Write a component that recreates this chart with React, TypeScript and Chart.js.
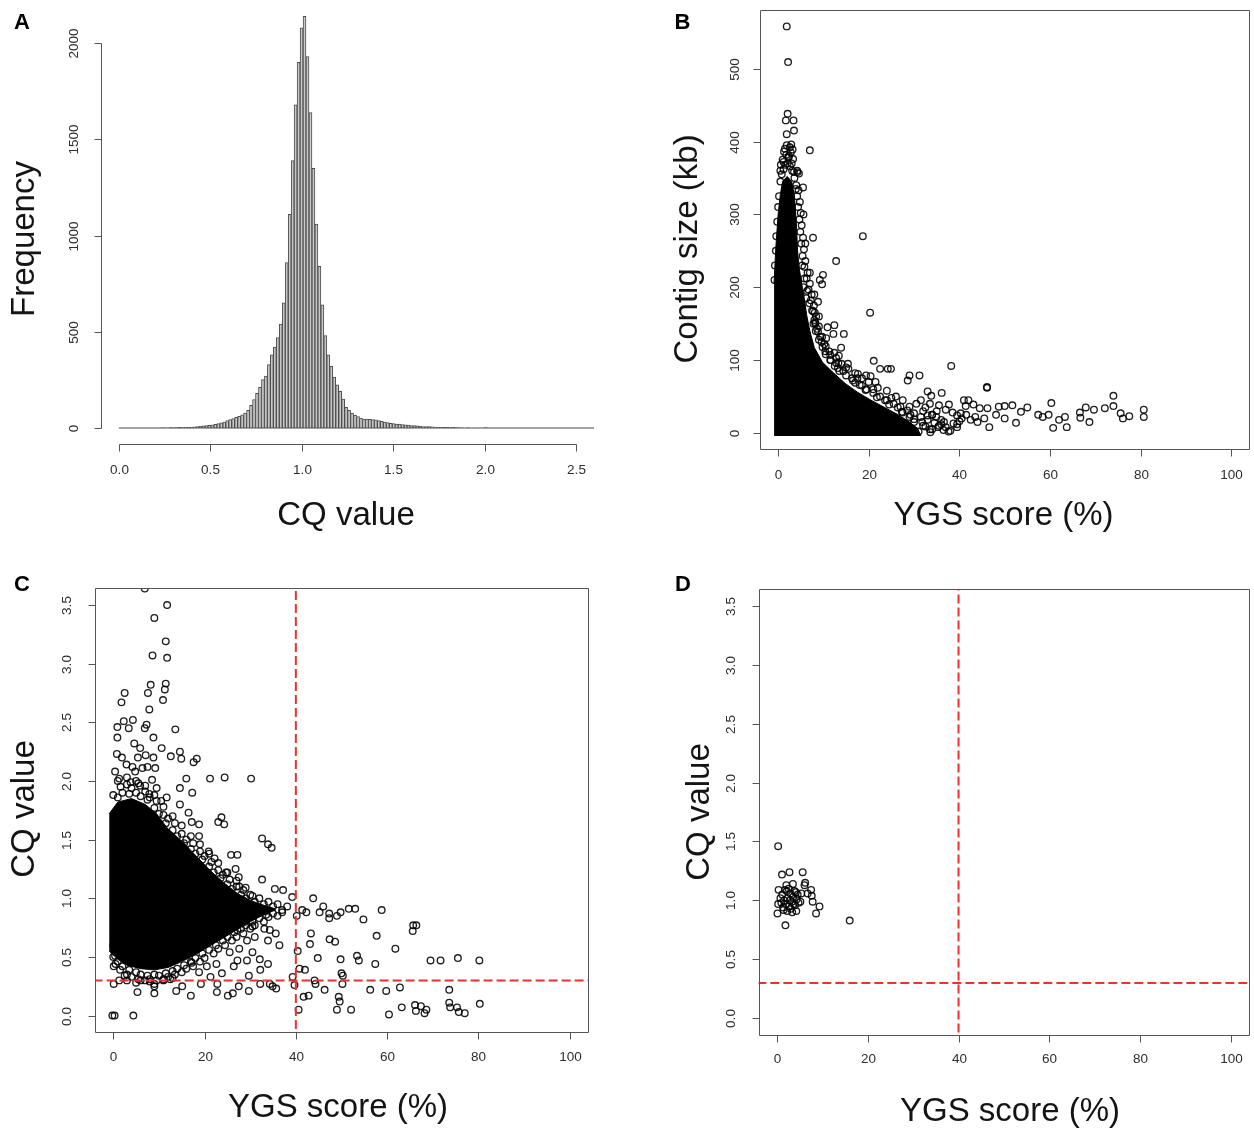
import React, { useEffect, useRef } from 'react';
import { Chart, registerables } from 'chart.js';

Chart.register(...registerables);

const FONT = '"Liberation Sans", Arial, Helvetica, sans-serif';
const AXIS_COLOR = '#555555';
const TICK_TEXT = '#2e2e2e';
const TITLE_TEXT = '#141414';
const POINT_COLOR = 'rgba(0,0,0,0.88)';
const RED = '#ee3030';
const TICK_LEN = 7;

type Pair = [number, number];

// ---------------- Panel A : histogram of CQ values ----------------
const cqBinWidth = 0.01625;
const cqBinCounts = [
  0, 0, 0, 0, 0, 0, 0, 0, 0, 0, 0, 0, 0, 0, 1, 1, 0, 2, 1, 2,
  3, 2, 4, 3, 5, 6, 8, 9, 11, 12, 14, 17, 19, 23, 27, 31, 38, 44, 49, 55,
  61, 68, 78, 92, 118, 148, 180, 212, 252, 270, 330, 380, 420, 470, 540, 650, 860, 1110, 1390, 1680,
  1900, 2080, 2140, 1930, 1640, 1350, 1060, 840, 640, 480, 380, 320, 265, 225, 190, 150, 108, 92, 78, 66,
  60, 52, 47, 46, 45, 44, 42, 38, 35, 31, 28, 24, 23, 21, 20, 18, 16, 15, 13, 12,
  11, 9, 8, 7, 7, 6, 5, 4, 4, 3, 3, 2, 3, 2, 1, 1, 0, 1, 0, 0,
  0, 0, 0, 2, 0, 0, 0, 0, 0, 0, 0, 0, 0, 0, 0, 0, 0, 0, 0, 0,
  0, 0, 0, 0, 0, 0, 0, 0, 0, 0, 0, 0, 0, 0, 0, 0, 0, 0, 0, 0,
];
const cqHistTicks = [0, 0.5, 1, 1.5, 2, 2.5];
const cqHistTickLabels = ['0.0', '0.5', '1.0', '1.5', '2.0', '2.5'];
const freqTicks = [0, 500, 1000, 1500, 2000];
const freqTickLabels = ['0', '500', '1000', '1500', '2000'];

// ---------------- shared YGS axis ----------------
const ygsTicks = [0, 20, 40, 60, 80, 100];
const ygsTickLabels = ['0', '20', '40', '60', '80', '100'];

// ---------------- Panel B : contig size vs YGS ----------------
const sizeTicks = [0, 100, 200, 300, 400, 500];
const sizeTickLabels = ['0', '100', '200', '300', '400', '500'];
const bCoreFloor = -4;
// outline of the fully over-plotted (solid black) region
const bCoreUpper: Pair[] = [
  [-0.9, 205], [-0.5, 255], [0.0, 300], [0.5, 328], [1.0, 345], [2.0, 352], [3.0, 345], [3.6, 325],
  [4.0, 290], [4.3, 250], [4.6, 228], [5.2, 205], [5.8, 184], [6.3, 162], [7.0, 140], [8.0, 117],
  [9.8, 97], [12.3, 82], [14.8, 68], [17.5, 56], [20.5, 45], [23.5, 35], [26.5, 25], [29, 15],
  [30.8, 6], [31.5, -4],
];
// circles on the fringe of the dense region
const bEdgePoints: Pair[] = [
  [4.0, 340], [4.5, 333], [4.2, 325], [4.8, 317], [4.4, 310], [5.0, 302], [4.7, 293], [5.2, 285],
  [4.9, 276], [5.5, 268], [5.1, 260], [5.7, 252], [5.4, 243], [6.0, 236], [5.8, 228], [6.5, 220],
  [6.3, 212], [7.0, 205], [6.7, 197], [7.4, 190], [7.2, 182], [7.9, 175], [7.7, 167], [8.4, 160],
  [8.2, 152], [9.0, 146], [8.8, 139], [9.7, 132], [9.6, 125], [10.5, 119], [10.4, 112], [11.5, 107],
  [11.6, 100], [12.8, 96], [13.2, 89], [14.4, 85], [15, 79], [16.3, 75], [17, 69], [18.5, 65],
  [19.3, 59], [21, 55], [21.8, 49], [23.6, 45], [24.5, 39], [26.4, 35], [27.3, 29], [29.2, 25],
  [30, 19], [31.8, 15], [32.5, 9], [34, 5], [33.6, 1], [5.6, 300], [6.0, 260], [7.0, 220],
  [8.0, 190], [9.0, 160], [10.6, 130], [12.4, 110], [15, 90], [17.5, 75], [21, 60], [25, 48],
  [29, 36], [33, 24], [36, 12], [-0.8, 210], [-0.7, 230], [-0.5, 250], [-0.4, 270], [-0.2, 290],
  [0.0, 310], [0.2, 325], [0.5, 345], [0.8, 355], [1.2, 362], [1.6, 368], [2.1, 370], [2.6, 366],
  [3.1, 360], [3.6, 350], [1.0, 375], [2.4, 380], [3.3, 376], [0.6, 368], [1.9, 395], [2.6, 392],
  [0.5, 360], [1.2, 372], [1.8, 382], [2.3, 378], [2.8, 385], [1.5, 390], [3.0, 370], [3.5, 358],
  [4.3, 358], [4.6, 356], [3.9, 335], [5.3, 230], [5.8, 212], [6.4, 195], [6.9, 178], [7.8, 150],
  [8.3, 140], [9.0, 128], [9.8, 118], [10.5, 108], [11.5, 100], [12.5, 92], [13.5, 85], [16.5, 72],
  [18, 66], [19.5, 60], [22.5, 50], [24, 45], [25.5, 40], [27, 36], [28.5, 31], [30, 27],
  [31.5, 22], [33, 18], [34.5, 14], [35.5, 10], [33.5, 5], [31, 2], [32, 10], [30, 15],
  [29, 22], [27.5, 28], [34, 25], [36, 18], [37, 8], [38, 3], [39.5, 12], [35, 30],
  [32.5, 35], [30.5, 40], [27.5, 45], [26, 50], [24, 58], [22, 62], [20, 70], [18.5, 75],
  [17, 82], [15.5, 88], [14, 95], [12.8, 103], [11.3, 112], [10.2, 122], [9.3, 132], [8.6, 143],
  [8, 155], [7.5, 168], [6.2, 185], [5.6, 200], [40.5, 20], [41.5, 25], [43.5, 22], [44, 15],
  [42.5, 18], [45.5, 20], [40, 16], [39.5, 24], [31.5, 45], [33.5, 40], [35.5, 38], [37, 32],
  [38.5, 28], [32, 30], [34, 25], [36.5, 4],
];
const bOutliers: Pair[] = [
  [1.9, 558], [2.2, 509], [2.1, 438], [1.7, 429], [3.4, 429], [3.5, 415], [1.9, 410], [2.9, 396],
  [7.0, 388], [1.3, 386], [3.2, 389], [4.2, 360], [5.5, 337], [7.7, 268], [18.7, 270], [12.8, 236],
  [9.9, 217], [9.2, 210], [9.7, 204], [8.8, 180], [20.3, 165], [8.1, 165], [8.2, 150], [10.9, 145],
  [12.2, 136], [12.4, 148], [14.5, 136], [13.9, 117], [13.4, 106], [13.3, 96], [15.4, 95], [21.1, 99],
  [22.5, 88], [24.2, 88], [24.9, 88], [38.2, 92], [17.6, 81], [19.4, 79], [20.4, 78], [29.0, 79],
  [31.2, 79], [28.6, 72], [21.5, 70], [36.1, 55], [33.0, 57], [33.8, 51], [46.1, 63], [46.1, 62],
  [41.0, 45], [42.0, 45], [43.1, 39], [41.4, 37], [40.3, 27], [44.5, 34], [46.2, 34], [48.7, 36],
  [50.0, 37], [51.7, 38], [55.0, 35], [53.6, 29], [52.5, 14], [48.1, 25], [50.0, 20], [46.6, 8],
  [57.4, 25], [58.4, 22], [59.7, 25], [60.3, 41], [60.7, 7], [62.0, 18], [63.3, 22], [63.7, 8],
  [66.6, 28], [66.7, 21], [67.9, 35], [68.7, 15], [69.7, 32], [72.1, 34], [74.0, 51], [74.0, 37],
  [75.6, 27], [76.1, 20], [77.5, 23], [80.7, 32], [80.7, 22], [37.6, 2], [39.5, 8], [34.9, 22],
  [36.6, 15], [35.3, 8], [38.7, 13], [37.7, 39],
];

// ---------------- Panels C & D : CQ vs YGS ----------------
const cqTicks = [0, 0.5, 1, 1.5, 2, 2.5, 3, 3.5];
const cqTickLabels = ['0.0', '0.5', '1.0', '1.5', '2.0', '2.5', '3.0', '3.5'];
const ygsThreshold = 40;
const cqThreshold = 0.3;

const cCoreUpper: Pair[] = [
  [-0.9, 1.72], [1, 1.82], [4, 1.85], [7, 1.8], [9.5, 1.72], [11.8, 1.6], [15.5, 1.47], [18.4, 1.35],
  [21.4, 1.23], [24.3, 1.13], [27.2, 1.04], [30.1, 0.98], [33, 0.94], [35.5, 0.91],
];
const cCoreLower: Pair[] = [
  [-0.9, 0.55], [1, 0.48], [3, 0.43], [6, 0.4], [9, 0.39], [12, 0.41], [15, 0.46], [18, 0.52],
  [21, 0.59], [24, 0.66], [27, 0.73], [30, 0.8], [33, 0.86], [35.5, 0.9],
];
const cEdgePoints: Pair[] = [
  [0, 1.88], [1, 1.86], [1.6, 1.95], [2, 1.9], [3, 1.97], [3.5, 1.89], [4, 1.94], [5, 1.9],
  [5.5, 1.98], [6, 1.87], [7, 1.91], [7.5, 1.84], [8, 1.86], [9, 1.77], [9.5, 1.83], [10, 1.72],
  [11, 1.71], [11.5, 1.64], [12, 1.68], [13, 1.58], [13.5, 1.64], [14, 1.53], [15, 1.55], [15.5, 1.47],
  [16, 1.5], [17, 1.42], [17.5, 1.47], [18, 1.38], [19, 1.4], [19.5, 1.33], [20, 1.36], [21, 1.27],
  [21.5, 1.31], [22, 1.22], [23, 1.24], [23.5, 1.17], [24, 1.2], [25, 1.12], [25.5, 1.16], [26, 1.08],
  [27, 1.1], [28, 1.03], [28.5, 1.07], [29, 1.0], [30, 1.03], [31, 0.97], [32, 1.0], [33, 0.95],
  [34, 0.97], [35, 0.93], [36, 0.95], [37, 0.9], [0, 0.5], [0.5, 0.44], [1, 0.46], [1.5, 0.39],
  [2, 0.42], [3, 0.35], [3.5, 0.39], [4, 0.33], [5, 0.37], [5.5, 0.31], [6, 0.35], [7, 0.3],
  [7.5, 0.34], [8, 0.31], [9, 0.35], [9.5, 0.3], [10, 0.34], [11, 0.31], [11.5, 0.36], [12, 0.33],
  [13, 0.38], [13.5, 0.35], [14, 0.4], [15, 0.37], [15.5, 0.43], [16, 0.4], [17, 0.46], [17.5, 0.42],
  [18, 0.49], [19, 0.46], [19.5, 0.53], [20, 0.49], [21, 0.56], [22, 0.53], [22.5, 0.6], [23, 0.57],
  [24, 0.64], [24.5, 0.6], [25, 0.67], [26, 0.64], [26.5, 0.71], [27, 0.67], [28, 0.74], [28.5, 0.7],
  [29, 0.77], [30, 0.74], [30.5, 0.8], [31, 0.77], [32, 0.83], [33, 0.8], [33.5, 0.86], [34, 0.84],
  [35, 0.87], [36, 0.85], [37, 0.88], [1, 2.0], [3, 2.03], [5, 2.0], [7, 1.96], [9, 1.88],
  [11, 1.78], [13, 1.7], [15, 1.62], [17, 1.53], [19, 1.46], [21, 1.38], [23, 1.3], [25, 1.22],
  [27, 1.15], [29, 1.09], [17.2, 0.45], [20.5, 0.42], [22.6, 0.44], [25.5, 0.54], [27.2, 0.47], [29.3, 0.47],
  [30.5, 0.54], [32.1, 0.48], [33.9, 0.44], [32.2, 0.39], [29.7, 0.34], [26.4, 0.42], [23.8, 0.36], [21.3, 0.33],
  [18.8, 0.37], [33.9, 0.64], [35.6, 0.7], [36.4, 0.6], [33.1, 0.74], [34.3, 0.73], [31.0, 0.67], [29.3, 0.64],
  [27.6, 0.57], [30.5, 0.76], [28.9, 0.8], [27.2, 0.73], [0.8, 2.23], [1.9, 2.2], [2.9, 2.14], [4.2, 2.12],
  [4.8, 2.08], [5.4, 2.2], [6.4, 2.11], [7.1, 2.22], [7.5, 2.12], [8.8, 2.2], [9.2, 2.11], [0.4, 2.08],
  [1.3, 2.02], [3.8, 1.99], [5.9, 1.96], [7.9, 1.89], [10.5, 1.83], [11.7, 1.86], [14.6, 1.8], [17.2, 1.65],
  [18.8, 1.53], [20.9, 1.4], [22.2, 1.34], [24.7, 1.22], [27.6, 1.1], [30.5, 1.02], [3, 0.3], [6, 0.3],
  [8, 0.29], [5, 0.28], [9, 0.27], [11, 0.3], [13, 0.32], [0, 0.6], [12.5, 0.31], [2.5, 0.34],
];
const cOutliers: Pair[] = [
  [6.9, 3.64], [11.8, 3.5], [9.0, 3.39], [11.5, 3.19], [11.8, 3.05], [8.6, 3.07], [8.2, 2.82], [11.5, 2.83],
  [11.3, 2.78], [7.6, 2.75], [2.5, 2.75], [1.8, 2.67], [10.9, 2.69], [7.9, 2.61], [13.6, 2.44], [4.3, 2.52],
  [2.3, 2.51], [0.9, 2.46], [7.3, 2.48], [6.9, 2.45], [3.4, 2.45], [8.8, 2.37], [0.9, 2.37], [10.6, 2.28],
  [14.6, 2.25], [12.6, 2.21], [18.3, 2.19], [17.6, 2.16], [14.9, 2.19], [4.6, 2.32], [5.9, 2.28], [21.2, 2.02],
  [24.4, 2.03], [30.2, 2.02], [16.0, 2.02], [17.3, 1.9], [14.6, 1.94], [9.5, 1.94], [8.5, 2.01], [23.7, 1.69],
  [24.3, 1.63], [23.0, 1.65], [16.5, 1.73], [18.8, 1.63], [32.6, 1.51], [33.9, 1.46], [34.7, 1.43], [25.8, 1.37],
  [27.2, 1.37], [26.8, 1.25], [27.5, 1.18], [32.6, 1.16], [35.4, 1.08], [37.2, 1.07], [39.2, 1.01], [43.8, 1.0],
  [38.1, 0.93], [41.4, 0.9], [42.3, 0.88], [40.2, 0.85], [45.2, 0.88], [46.0, 0.93], [47.3, 0.87], [49.0, 0.85],
  [49.8, 0.88], [51.6, 0.91], [53.0, 0.91], [58.8, 0.9], [54.8, 0.82], [47.3, 0.83], [47.4, 0.65], [48.6, 0.63],
  [43.3, 0.7], [43.1, 0.61], [57.7, 0.68], [65.7, 0.77], [66.4, 0.77], [65.6, 0.72], [61.8, 0.57], [40.4, 0.55],
  [44.8, 0.49], [49.8, 0.48], [53.4, 0.51], [53.8, 0.47], [57.4, 0.44], [69.5, 0.47], [71.7, 0.47], [75.5, 0.49],
  [80.2, 0.47], [50.0, 0.36], [50.3, 0.34], [50.2, 0.27], [56.3, 0.22], [59.8, 0.21], [62.8, 0.24], [73.6, 0.22],
  [44.1, 0.3], [44.3, 0.27], [46.3, 0.22], [39.3, 0.33], [39.7, 0.26], [40.8, 0.4], [42.0, 0.39], [41.7, 0.16],
  [42.8, 0.17], [40.6, 0.05], [49.4, 0.16], [49.6, 0.12], [49.0, 0.05], [52.1, 0.05], [60.4, 0.01], [63.2, 0.07],
  [66.1, 0.09], [66.3, 0.04], [67.4, 0.08], [68.2, 0.02], [68.6, 0.05], [73.6, 0.11], [73.8, 0.07], [75.3, 0.07],
  [75.7, 0.03], [77.0, 0.02], [80.3, 0.1], [0.1, 0.27], [1.3, 0.3], [5.3, 0.2], [9.0, 0.25], [9.0, 0.19],
  [13.8, 0.21], [15.1, 0.25], [17.0, 0.17], [19.2, 0.27], [22.8, 0.27], [22.7, 0.2], [25.1, 0.17], [26.2, 0.19],
  [27.5, 0.25], [29.7, 0.21], [32.2, 0.27], [34.3, 0.27], [35.7, 0.23], [34.9, 0.25], [-0.2, 0.0], [0.3, 0.0],
  [4.4, 0.0], [0.1, 0.42], [0.4, 0.51],
];

const dPoints: Pair[] = [
  [0.3, 1.46], [1.15, 1.22], [2.8, 1.24], [5.7, 1.24], [6.25, 1.15], [6.1, 1.13], [7.55, 1.09], [7.7, 1.04],
  [7.9, 0.99], [9.4, 0.95], [8.65, 0.89], [1.9, 0.79], [16.05, 0.83], [0.15, 0.89], [0.3, 0.97], [0.4, 1.09],
  [2.1, 1.13], [3.55, 1.14], [4.3, 0.91], [5.4, 1.06], [6.8, 1.06], [1.2, 1.05], [1.6, 1.0], [2.0, 0.97],
  [2.4, 1.02], [2.7, 0.95], [3.0, 1.06], [3.3, 0.99], [3.6, 1.03], [4.0, 0.96], [4.4, 1.01], [4.8, 0.98],
  [1.4, 0.94], [2.2, 1.08], [3.1, 0.93], [2.6, 1.1], [1.8, 1.09], [3.9, 1.08], [4.6, 1.05], [1.0, 0.98],
  [5.2, 0.99], [3.4, 0.9], [2.3, 0.91], [0.8, 1.02], [3.7, 0.97], [2.9, 1.0], [1.5, 0.92], [4.2, 1.07],
];

// ---------------- helpers ----------------
const toXY = (pairs: Pair[]) => pairs.map(([x, y]) => ({ x, y }));

interface AxesCfg {
  xTicks: number[];
  xTickLabels: string[];
  yTicks: number[];
  yTickLabels: string[];
  box: boolean;
  xLabelOffset: number;
  yLabelOffset: number;
  xTitle: string;
  xTitlePos: [number, number];
  yTitle: string;
  yTitlePos: [number, number];
  letter: string;
  letterPos: [number, number];
}

function makeRAxes(cfg: AxesCfg) {
  return {
    id: 'rAxes',
    afterDraw(chart: any) {
      const { ctx, chartArea: a, scales } = chart;
      const xs = scales.x;
      const ys = scales.y;
      const snap = (v: number) => Math.round(v) + 0.5;
      ctx.save();
      ctx.setLineDash([]);
      ctx.strokeStyle = AXIS_COLOR;
      ctx.lineWidth = 1;
      ctx.beginPath();
      if (cfg.box) {
        const l = Math.round(a.left), r = Math.round(a.right), t = Math.round(a.top), b = Math.round(a.bottom);
        ctx.rect(l + 0.5, t + 0.5, r - l, b - t);
      }
      const xp = cfg.xTicks.map((v) => snap(xs.getPixelForValue(v)));
      const yb = snap(a.bottom);
      ctx.moveTo(xp[0], yb);
      ctx.lineTo(xp[xp.length - 1], yb);
      for (const p of xp) {
        ctx.moveTo(p, yb);
        ctx.lineTo(p, yb + TICK_LEN);
      }
      const yp = cfg.yTicks.map((v) => snap(ys.getPixelForValue(v)));
      const xl = snap(a.left);
      ctx.moveTo(xl, yp[0]);
      ctx.lineTo(xl, yp[yp.length - 1]);
      for (const p of yp) {
        ctx.moveTo(xl, p);
        ctx.lineTo(xl - TICK_LEN, p);
      }
      ctx.stroke();

      ctx.fillStyle = TICK_TEXT;
      ctx.font = `13.5px ${FONT}`;
      ctx.textAlign = 'center';
      ctx.textBaseline = 'middle';
      cfg.xTickLabels.forEach((t, i) => ctx.fillText(t, xp[i], a.bottom + cfg.xLabelOffset));
      cfg.yTickLabels.forEach((t, i) => {
        ctx.save();
        ctx.translate(a.left - cfg.yLabelOffset, yp[i]);
        ctx.rotate(-Math.PI / 2);
        ctx.fillText(t, 0, 0);
        ctx.restore();
      });

      ctx.fillStyle = TITLE_TEXT;
      ctx.font = `33px ${FONT}`;
      ctx.fillText(cfg.xTitle, cfg.xTitlePos[0], cfg.xTitlePos[1]);
      ctx.save();
      ctx.translate(cfg.yTitlePos[0], cfg.yTitlePos[1]);
      ctx.rotate(-Math.PI / 2);
      ctx.fillText(cfg.yTitle, 0, 0);
      ctx.restore();

      ctx.fillStyle = '#000';
      ctx.font = `bold 22px ${FONT}`;
      ctx.textAlign = 'left';
      ctx.textBaseline = 'alphabetic';
      ctx.fillText(cfg.letter, cfg.letterPos[0], cfg.letterPos[1]);
      ctx.restore();
    },
  };
}

const commonOptions = {
  animation: false,
  responsive: false,
  maintainAspectRatio: false,
  events: [],
  plugins: { legend: { display: false }, tooltip: { enabled: false }, title: { display: false } },
};

const pointDataset = (pairs: Pair[]) => ({
  data: toXY(pairs),
  pointRadius: 3.3,
  pointHoverRadius: 3.3,
  pointBorderWidth: 1.35,
  pointBorderColor: POINT_COLOR,
  pointBackgroundColor: 'rgba(0,0,0,0)',
  borderColor: POINT_COLOR,
  backgroundColor: 'rgba(0,0,0,0)',
  showLine: false,
  clip: 0,
  order: 1,
});

const coreLine = (pairs: Pair[], fill: any) => ({
  type: 'line',
  data: toXY(pairs),
  fill,
  backgroundColor: '#000',
  borderColor: '#000',
  borderWidth: 1,
  pointRadius: 0,
  tension: 0,
  order: 3,
});

const refLines = () => [
  {
    type: 'line',
    data: [{ x: ygsThreshold, y: -1 }, { x: ygsThreshold, y: 5 }],
    borderColor: RED,
    borderWidth: 2,
    borderDash: [9, 4],
    pointRadius: 0,
    fill: false,
    clip: 0,
    order: 0,
  },
  {
    type: 'line',
    data: [{ x: -10, y: cqThreshold }, { x: 110, y: cqThreshold }],
    borderColor: RED,
    borderWidth: 2,
    borderDash: [9, 4],
    pointRadius: 0,
    fill: false,
    clip: 0,
    order: 0,
  },
];

const W = 627;
const H = 566;

function buildA(): any {
  const bars = cqBinCounts.map((c, i) => ({ x: (i + 0.5) * cqBinWidth, y: c }));
  return {
    type: 'bar',
    data: {
      datasets: [
        {
          type: 'line',
          data: [{ x: 0, y: 0 }, { x: cqBinCounts.length * cqBinWidth, y: 0 }],
          borderColor: '#4a4a4a',
          borderWidth: 1,
          pointRadius: 0,
          fill: false,
          order: 0,
        },
        {
          data: bars,
          backgroundColor: '#c8c8c8',
          borderColor: '#4d4d4d',
          borderWidth: 1,
          borderSkipped: 'start',
          barPercentage: 1,
          categoryPercentage: 1,
          order: 1,
        },
      ],
    },
    options: {
      ...commonOptions,
      layout: { padding: { left: 100.5, right: W - 594.3, top: 0, bottom: H - 444.4 } },
      scales: {
        x: { type: 'linear', display: false, min: -0.1, max: 2.6, offset: false },
        y: { type: 'linear', display: false, min: -85.2, max: 2224.5 },
      },
    },
    plugins: [
      makeRAxes({
        xTicks: cqHistTicks,
        xTickLabels: cqHistTickLabels,
        yTicks: freqTicks,
        yTickLabels: freqTickLabels,
        box: false,
        xLabelOffset: 25.6,
        yLabelOffset: 26.5,
        xTitle: 'CQ value',
        xTitlePos: [346, 516],
        yTitle: 'Frequency',
        yTitlePos: [25, 239],
        letter: 'A',
        letterPos: [14, 29],
      }),
    ],
  };
}

function buildB(): any {
  return {
    type: 'scatter',
    data: {
      datasets: [coreLine(bCoreUpper, { value: bCoreFloor }), pointDataset([...bEdgePoints, ...bOutliers])],
    },
    options: {
      ...commonOptions,
      layout: { padding: { left: 133, right: 3, top: 10, bottom: H - 449 } },
      scales: {
        x: { type: 'linear', display: false, min: -4, max: 104 },
        y: { type: 'linear', display: false, min: -22, max: 580.5 },
      },
    },
    plugins: [
      makeRAxes({
        xTicks: ygsTicks,
        xTickLabels: ygsTickLabels,
        yTicks: sizeTicks,
        yTickLabels: sizeTickLabels,
        box: true,
        xLabelOffset: 26,
        yLabelOffset: 24.5,
        xTitle: 'YGS score (%)',
        xTitlePos: [376.5, 516],
        yTitle: 'Contig size (kb)',
        yTitlePos: [61, 249],
        letter: 'B',
        letterPos: [47.5, 29],
      }),
    ],
  };
}

function buildC(): any {
  return {
    type: 'scatter',
    data: {
      datasets: [
        coreLine(cCoreUpper, '+1'),
        coreLine(cCoreLower, false),
        pointDataset([...cEdgePoints, ...cOutliers]),
        ...refLines(),
      ],
    },
    options: {
      ...commonOptions,
      layout: { padding: { left: 95, right: W - 588, top: 22, bottom: H - 466 } },
      scales: {
        x: { type: 'linear', display: false, min: -4, max: 104 },
        y: { type: 'linear', display: false, min: -0.14, max: 3.645 },
      },
    },
    plugins: [
      makeRAxes({
        xTicks: ygsTicks,
        xTickLabels: ygsTickLabels,
        yTicks: cqTicks,
        yTickLabels: cqTickLabels,
        box: true,
        xLabelOffset: 25,
        yLabelOffset: 28,
        xTitle: 'YGS score (%)',
        xTitlePos: [338, 542],
        yTitle: 'CQ value',
        yTitlePos: [25, 243],
        letter: 'C',
        letterPos: [14, 25],
      }),
    ],
  };
}

function buildD(): any {
  return {
    type: 'scatter',
    data: {
      datasets: [pointDataset(dPoints), ...refLines()],
    },
    options: {
      ...commonOptions,
      layout: { padding: { left: 131.6, right: 1, top: 23, bottom: H - 469 } },
      scales: {
        x: { type: 'linear', display: false, min: -4, max: 104 },
        y: { type: 'linear', display: false, min: -0.14, max: 3.64 },
      },
    },
    plugins: [
      makeRAxes({
        xTicks: ygsTicks,
        xTickLabels: ygsTickLabels,
        yTicks: cqTicks,
        yTickLabels: cqTickLabels,
        box: true,
        xLabelOffset: 24,
        yLabelOffset: 27,
        xTitle: 'YGS score (%)',
        xTitlePos: [383, 546],
        yTitle: 'CQ value',
        yTitlePos: [73, 246],
        letter: 'D',
        letterPos: [48, 25],
      }),
    ],
  };
}

function ChartPanel({ left, top, build }: { left: number; top: number; build: () => any }) {
  const ref = useRef<HTMLCanvasElement | null>(null);
  useEffect(() => {
    if (!ref.current) return;
    const chart = new Chart(ref.current, build());
    return () => chart.destroy();
  }, [build]);
  return (
    <canvas
      ref={ref}
      width={W}
      height={H}
      style={{ position: 'absolute', left, top, width: W, height: H }}
    />
  );
}

export default function App() {
  return (
    <div
      style={{
        position: 'absolute',
        left: 0,
        top: 0,
        width: 1254,
        height: 1132,
        background: '#ffffff',
        overflow: 'hidden',
      }}
    >
      <ChartPanel left={0} top={0} build={buildA} />
      <ChartPanel left={627} top={0} build={buildB} />
      <ChartPanel left={0} top={566} build={buildC} />
      <ChartPanel left={627} top={566} build={buildD} />
    </div>
  );
}
